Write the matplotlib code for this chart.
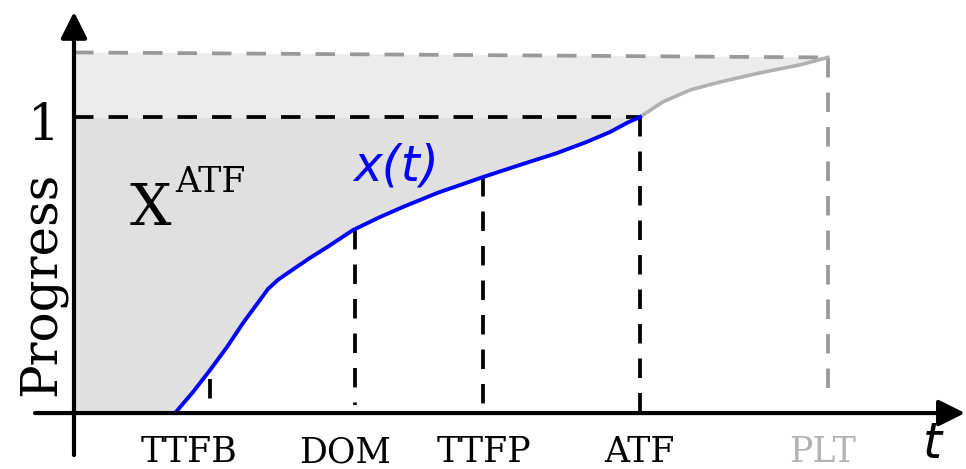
import numpy as np
import matplotlib
matplotlib.use('Agg')
import matplotlib.pyplot as plt

# progress curve up to ATF (blue) and after it up to PLT (gray)
visual_t = [0.0, 1.01, 1.19, 1.36, 1.53, 1.69, 1.86, 1.94, 2.04, 2.19, 2.36, 2.53,
            2.79, 3.06, 3.29, 3.63, 4.09, 4.46, 4.83, 5.13, 5.36, 5.53, 5.66]
visual_p = [0.0, 0.0, 0.071, 0.145, 0.223, 0.304, 0.382, 0.419, 0.450, 0.485, 0.524, 0.560,
            0.618, 0.662, 0.696, 0.743, 0.797, 0.838, 0.878, 0.916, 0.949, 0.980, 1.0]
tail_t = [5.66, 5.89, 6.16, 6.46, 6.86, 7.26, 7.54]
tail_p = [1.0, 1.051, 1.091, 1.118, 1.149, 1.176, 1.201]

# top (total progress) line, left and right end
top_t = [0.0, 7.54]
top_p = [1.218, 1.201]

# events on the time axis
event_names = ['TTFB', 'DOM', 'TTFP', 'ATF', 'PLT']
event_t = [1.36, 2.81, 4.09, 5.66, 7.54]
event_top = [0.115, 0.618, 0.797, 1.0, 1.2]
event_bottom = [0.0, 0.027, 0.0, -0.013, 0.054]
label_t = [1.15, 2.71, 4.10, 5.66, 7.49]

fig = plt.figure(figsize=(9.66, 4.69), dpi=100)
ax = fig.add_axes([0, 0, 1, 1])
ax.set_xlim(-0.74, 8.92)
ax.set_ylim(-0.189, 1.395)
ax.axis('off')

dash = (0, (5.2, 4.0))

# shaded areas
light_x = [top_t[0], top_t[1]] + tail_t[::-1] + [0.0]
light_y = [top_p[0], top_p[1]] + tail_p[::-1] + [1.0]
ax.fill(light_x, light_y, color='#ececec', lw=0, zorder=1)
ax.fill_between(visual_t, visual_p, 1.0, color='#e0e0e0', lw=0, zorder=1)

# reference lines
ax.plot(top_t, top_p, color='#999999', lw=2.7, linestyle=dash, zorder=2)
ax.plot([0, event_t[3]], [1.0, 1.0], color='black', lw=2.7, linestyle=dash, zorder=2)
for i, name in enumerate(event_names):
    col = '#999999' if name == 'PLT' else 'black'
    ax.plot([event_t[i], event_t[i]], [event_top[i], event_bottom[i]],
            color=col, lw=2.7, linestyle=dash, zorder=2)
    ax.text(label_t[i], -0.166, name, ha='center', va='baseline',
            family='DejaVu Serif', fontsize=25,
            color='#b3b3b3' if name == 'PLT' else 'black')

# curves
ax.plot(tail_t, tail_p, color='#b0b0b0', lw=2.6, zorder=3, solid_joinstyle='round')
ax.plot(visual_t, visual_p, color='#0000ff', lw=2.8, zorder=4, solid_joinstyle='round')

# axes with arrows
arrow = dict(arrowstyle='-|>,head_length=16,head_width=8', mutation_scale=1,
             lw=3.0, color='black', shrinkA=0, shrinkB=0)
ax.annotate('', xy=(0, 1.355), xytext=(0, -0.142), arrowprops=arrow, zorder=5)
ax.annotate('', xy=(8.91, 0), xytext=(-0.39, 0), arrowprops=arrow, zorder=5)

# text
ax.text(-0.14, 0.922, '1', ha='right', va='baseline', family='DejaVu Serif', fontsize=36)
ax.text(-0.19, 0.436, 'Progress', rotation=90, rotation_mode='anchor',
        ha='center', va='baseline', family='DejaVu Serif', fontsize=36)
ax.text(0.56, 0.635, 'X', ha='left', va='baseline', family='DejaVu Serif', fontsize=42)
ax.text(1.01, 0.747, 'ATF', ha='left', va='baseline', family='DejaVu Serif', fontsize=25)
ax.text(2.79, 0.787, 'x(t)', ha='left', va='baseline', family='DejaVu Sans',
        style='italic', fontsize=35, color='#0000ff')
ax.text(8.49, -0.153, 't', ha='left', va='baseline', family='DejaVu Sans',
        style='italic', fontsize=35)

fig.savefig('out.png', dpi=100)
